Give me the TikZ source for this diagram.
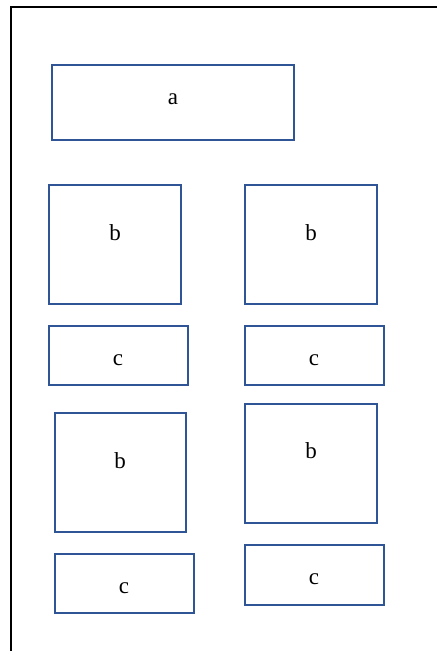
\documentclass[tikz,border=0pt]{standalone}
\usepackage{fontspec}
\setmainfont{Liberation Serif}
\definecolor{boxblue}{HTML}{2F5597}
\begin{document}
\begin{tikzpicture}[x=1pt,y=-1pt,
  bx/.style={draw=boxblue,line width=2.6pt},
  lbl/.style={font=\fontsize{23}{26}\selectfont,inner sep=0pt,anchor=base}]
\useasboundingbox (0,0) rectangle (437,651);
\draw[line width=2.6pt,black] (11,651) -- (11,7) -- (437,7);
\draw[bx] (52,65) rectangle (294,140);
\node[lbl] (ta) at (173,104) {a};
\draw[bx] (49,185) rectangle (181,304);
\node[lbl] (tb1) at (115,240) {b};
\draw[bx] (245,185) rectangle (377,304);
\node[lbl] (tb2) at (311,240) {b};
\draw[bx] (49,326) rectangle (188,385);
\node[lbl] (tc1) at (118,365) {c};
\draw[bx] (245,326) rectangle (384,385);
\node[lbl] (tc2) at (314,365) {c};
\draw[bx] (55,413) rectangle (186,532);
\node[lbl] (tb3) at (120,468) {b};
\draw[bx] (245,404) rectangle (377,523);
\node[lbl] (tb4) at (311,458) {b};
\draw[bx] (55,554) rectangle (194,613);
\node[lbl] (tc3) at (124,593) {c};
\draw[bx] (245,545) rectangle (384,605);
\node[lbl] (tc4) at (314,584) {c};
\end{tikzpicture}
\end{document}
